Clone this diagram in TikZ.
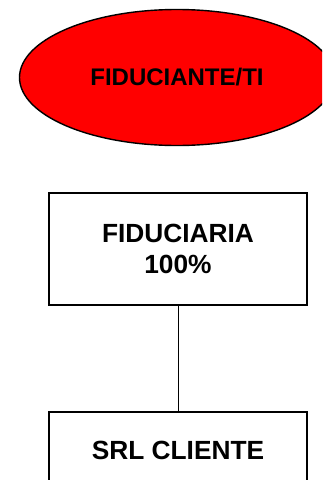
\documentclass[tikz,border=0pt]{standalone}
\usepackage{fontspec}
\setmainfont{Liberation Sans}
\usetikzlibrary{shapes.geometric}
\definecolor{trustred}{RGB}{255,0,0}
\tikzset{
  trust/.style={ellipse,draw,line width=1.4pt,fill=trustred,inner sep=0,
    minimum width=315pt,minimum height=136pt,
    font=\fontsize{24}{28}\selectfont\bfseries},
  firm/.style={rectangle,draw,line width=1.3pt,inner sep=0,minimum width=258pt,
    align=center,font=\fontsize{26.3}{31}\selectfont\bfseries},
  link/.style={draw,line width=1pt}
}

\begin{document}
\begin{tikzpicture}[x=1pt,y=-1pt]
    \useasboundingbox (0,0) rectangle (322,480);
    \clip (0,0) rectangle (322,480);
    \fill[white] (0,0) rectangle (322,480);

    \node[trust] (fid) at (177,77.5) {FIDUCIANTE/TI};
    \node[firm,minimum height=112pt] (fia) at (178,249) {FIDUCIARIA\\100\%};
    \node[firm,minimum height=76pt] (srl) at (178,450) {SRL CLIENTE};

    \draw[link] (fia) -- (srl);
\end{tikzpicture}
\end{document}
